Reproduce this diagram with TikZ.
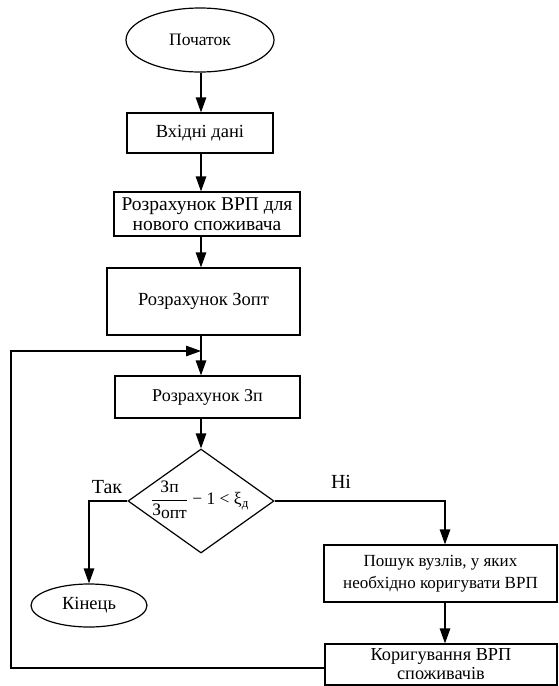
\documentclass[tikz,border=0pt]{standalone}
\usepackage{fontspec}
\setmainfont{Liberation Serif}
\usetikzlibrary{shapes.geometric,arrows.meta}
\newcommand{\fs}[2]{\fontsize{#1}{#2}\selectfont}
\tikzset{
  base/.style={draw, line width=1.2pt, inner sep=0pt, align=center, font=\fs{17}{21}, text=black},
  box/.style={base, rectangle},
  term/.style={base, ellipse},
  dia/.style={base, diamond},
  arr/.style={draw, line width=1.2pt, -{Triangle[length=15pt,width=10.5pt]}},
  lbl/.style={inner sep=0pt, font=\fs{17}{21}, text=black}
}
\begin{document}
\begin{tikzpicture}[x=1pt,y=-1pt]
\useasboundingbox[fill=white] (0,0) rectangle (558,686);
\coordinate (sp) at (201,0);
\coordinate (c2) at (445,0);
\coordinate (lx) at (11,0);
\coordinate (j) at (201,351);

\node[term, minimum width=148pt, minimum height=64pt, font=\fs{17.5}{21}] (start) at (200,40) {Початок};
\node[box, minimum width=146pt, minimum height=40pt, font=\fs{18.5}{22}] (in) at (200,133) {Вхідні дані};
\node[box, minimum width=186pt, minimum height=44pt, font=\fs{19.5}{20.5}] (vrp) at (207,214) {Розрахунок ВРП для\\нового споживача};
\node[box, minimum width=193pt, minimum height=67pt, font=\fs{18.5}{22}] (zopt) at (203.5,301.5) {Розрахунок Зопт};
\node[box, minimum width=185pt, minimum height=42pt, font=\fs{18}{21}] (zp) at (207.5,397) {Розрахунок Зп};
\node[dia, minimum width=146pt, minimum height=104pt] (dec) at (201,501) {};
\node[lbl, font=\fs{17.5}{21}] (formula) at (200,500) {$\displaystyle\frac{\mbox{Зп}}{\mbox{З\raisebox{-3pt}{опт}}}\mbox{ − 1 < ξ}_{\mbox{\fs{13}{14}д}}$};
\node[lbl, font=\fs{20}{22}] (yes) at (107,487) {Так};
\node[lbl, font=\fs{20}{22}] (no) at (341,482) {Ні};
\node[term, minimum width=116pt, minimum height=43pt, font=\fs{18.5}{22}] (end) at (89,605.5) {Кінець};
\node[box, minimum width=233pt, minimum height=57pt, font=\fs{17}{22}] (post) at (440.5,573.5) {Пошук вузлів, у яких\\необхідно коригувати ВРП};
\node[box, minimum width=232pt, minimum height=41pt, font=\fs{18.3}{19}] (kor) at (441,664.5) {Коригування ВРП\\споживачів};

\draw[arr] (start.south -| sp) -- (in.north -| sp);
\draw[arr] (in.south -| sp) -- (vrp.north -| sp);
\draw[arr] (vrp.south -| sp) -- (zopt.north -| sp);
\draw[arr] (zopt.south -| sp) -- (zp.north -| sp);
\draw[arr] (zp.south -| sp) -- (dec.north);
\draw[arr] (dec.west) -| (end.north);
\draw[arr] (dec.east) -| (post.north -| c2);
\draw[arr] (post.south -| c2) -- (kor.north -| c2);
\draw[arr] ([yshift=-3.5pt]kor.west) -| (lx |- j) -- (j);
\end{tikzpicture}
\end{document}
